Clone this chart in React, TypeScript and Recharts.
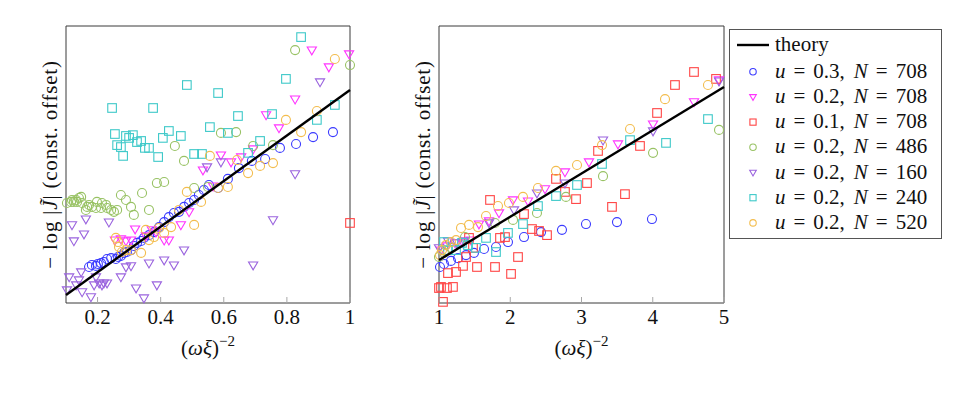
import React from 'react';
import { ScatterChart, Scatter, XAxis, YAxis, Label } from 'recharts';

const FONT = '"Liberation Serif", "Times New Roman", serif';
const FS = 21;
const FRAME = '#3a3a3a';
const TICK = '#a8a8a8';
const TXT = { fontFamily: FONT, fontSize: FS } as any;

// ---------- data (x = (omega xi)^-2, y = -log|J| in arbitrary units) ----------
const leftBlue = [[0.173,1.30],[0.182,1.37],[0.195,1.34],[0.201,1.41],[0.211,1.44],[0.220,1.48],[0.230,1.59],[0.243,1.62],[0.258,1.59],[0.265,1.66],[0.274,1.70],[0.284,1.81],[0.293,1.84],[0.306,1.91],[0.315,2.06],[0.325,2.17],[0.338,2.24],[0.347,2.35],[0.363,2.45],[0.379,2.56],[0.395,2.74],[0.411,2.92],[0.426,3.10],[0.442,3.25],[0.458,3.29],[0.474,3.47],[0.490,3.61],[0.506,3.72],[0.521,3.90],[0.537,4.08],[0.553,4.26],[0.582,4.15],[0.613,4.48],[0.648,4.87],[0.689,5.13],[0.731,5.20],[0.778,5.60],[0.829,5.74],[0.883,5.99],[0.946,6.17]];
const leftMagenta = [[0.255,2.27],[0.274,2.31],[0.290,2.24],[0.306,2.27],[0.319,2.67],[0.353,2.42],[0.372,2.64],[0.385,2.56],[0.411,2.27],[0.426,2.27],[0.464,2.82],[0.490,3.29],[0.534,4.80],[0.566,4.22],[0.591,5.34],[0.623,5.09],[0.655,5.27],[0.693,5.56],[0.734,6.79],[0.775,6.32],[0.826,7.36],[0.879,9.13],[0.933,8.52],[0.997,8.99]];
const leftRed = [[1.0,2.89]];
const leftGreen = [[0.103,3.61],[0.116,3.65],[0.119,3.72],[0.125,3.65],[0.132,3.72],[0.135,3.65],[0.141,3.79],[0.148,3.83],[0.151,3.61],[0.163,3.36],[0.167,3.47],[0.173,3.54],[0.182,3.47],[0.195,3.43],[0.198,3.65],[0.211,3.43],[0.214,3.61],[0.227,3.54],[0.230,3.43],[0.243,3.36],[0.252,3.29],[0.262,3.36],[0.274,3.90],[0.290,3.72],[0.306,3.47],[0.315,3.18],[0.341,3.97],[0.363,3.36],[0.388,4.33],[0.411,4.37],[0.445,5.67],[0.474,5.13],[0.506,4.15],[0.550,4.19],[0.591,6.14],[0.639,6.17],[0.693,5.67],[0.756,5.70],[0.826,9.13],[1.0,8.59]];
const leftPurple = [[0.103,0.47],[0.110,0.94],[0.119,2.82],[0.125,2.24],[0.132,0.65],[0.141,0.83],[0.148,1.12],[0.151,0.40],[0.157,2.49],[0.163,3.03],[0.179,0.22],[0.189,0.65],[0.195,0.94],[0.205,0.72],[0.214,0.65],[0.220,0.72],[0.230,0.72],[0.236,2.92],[0.274,0.94],[0.290,1.30],[0.306,1.34],[0.322,0.54],[0.347,0.18],[0.363,1.44],[0.388,0.65],[0.411,1.55],[0.442,1.37],[0.474,1.91],[0.547,4.91],[0.591,5.09],[0.693,1.37],[0.756,3.00],[0.826,4.66],[0.905,7.98]];
const leftTeal = [[0.246,7.04],[0.255,6.10],[0.262,5.70],[0.274,5.63],[0.281,5.31],[0.290,6.03],[0.300,5.96],[0.312,6.06],[0.325,5.81],[0.338,5.85],[0.350,5.60],[0.363,5.60],[0.376,7.04],[0.392,5.27],[0.407,5.96],[0.426,6.21],[0.464,6.03],[0.483,7.87],[0.506,5.38],[0.531,5.38],[0.556,6.35],[0.582,7.58],[0.613,6.14],[0.645,6.75],[0.677,5.42],[0.715,5.85],[0.753,6.82],[0.797,8.09],[0.845,9.60],[0.895,6.61],[0.952,7.15]];
const leftOrange = [[0.258,2.35],[0.265,2.20],[0.268,2.02],[0.277,1.84],[0.290,1.91],[0.306,1.91],[0.338,1.81],[0.353,2.64],[0.363,2.27],[0.379,2.38],[0.395,2.71],[0.411,2.53],[0.433,2.74],[0.458,3.36],[0.483,4.01],[0.506,2.82],[0.528,3.65],[0.556,5.31],[0.582,4.15],[0.613,4.19],[0.642,5.16],[0.677,4.69],[0.715,4.95],[0.756,5.05],[0.797,6.61],[0.845,6.17],[0.895,6.93],[0.952,8.81]];

const rightBlue = [[1.014,1.30],[1.070,1.41],[1.168,1.52],[1.267,1.62],[1.379,1.73],[1.491,1.81],[1.632,1.95],[1.800,2.02],[1.968,2.20],[2.193,2.38],[2.432,2.56],[2.726,2.64],[3.063,2.85],[3.498,2.92],[3.989,3.03]];
const rightMagenta = [[1.028,1.91],[1.112,2.06],[1.225,2.17],[1.337,2.17],[1.449,2.27],[1.561,2.85],[1.702,2.96],[1.842,3.25],[2.039,3.72],[2.249,3.68],[2.488,4.12],[2.768,4.73],[3.105,5.09],[3.512,5.74],[4.004,6.46],[4.579,7.26],[4.930,8.05]];
const rightRed = [[1.000,0.54],[1.028,0.58],[1.056,0.04],[1.112,0.54],[1.126,1.08],[1.196,0.58],[1.239,1.12],[1.337,1.34],[1.379,1.66],[1.421,2.35],[1.477,1.99],[1.533,1.30],[1.716,3.72],[1.786,1.30],[1.856,2.35],[1.926,2.38],[2.011,1.05],[2.109,1.66],[2.193,3.21],[2.305,2.67],[2.404,2.60],[2.516,2.45],[2.642,4.48],[2.768,4.01],[2.923,3.75],[3.077,4.33],[3.232,5.49],[3.428,3.47],[3.610,3.93],[3.821,5.67],[4.060,6.86],[4.312,7.87],[4.579,8.34],[4.888,8.09]];
const rightGreen = [[1.000,1.66],[1.070,1.81],[1.182,1.99],[1.365,2.38],[1.786,2.89],[2.039,3.00],[2.375,3.25],[2.782,3.83],[3.302,4.58],[4.004,5.42],[4.930,6.25]];
const rightPurple = [[1.000,1.99],[1.126,2.24],[1.253,2.17],[1.351,2.24],[1.702,2.89],[2.053,3.36],[2.375,3.97],[2.768,4.33],[3.302,5.88],[4.004,6.21],[4.930,8.01]];
const rightTeal = [[1.070,2.20],[1.126,1.91],[1.239,1.91],[1.323,2.17],[1.407,2.09],[1.519,1.99],[1.660,2.35],[1.800,1.84],[1.968,2.53],[2.179,2.85],[2.389,3.50],[2.642,3.86],[2.937,4.26],[3.288,5.02],[3.681,5.88],[4.186,5.78],[4.775,6.64]];
const rightOrange = [[1.014,1.73],[1.042,1.91],[1.098,2.09],[1.168,2.20],[1.239,2.27],[1.309,2.71],[1.421,2.82],[1.547,2.74],[1.660,3.14],[1.828,3.50],[1.982,3.61],[2.179,3.83],[2.389,4.15],[2.642,4.77],[2.937,4.98],[3.288,5.70],[3.681,6.28],[4.172,7.36],[4.775,7.87]];

const theoryLeft = [[0.1,0.29],[1.0,7.69]];
const theoryRight = [[1,1.55],[5,7.80]];

const leftTicks = [0.2, 0.4, 0.6, 0.8, 1];
const rightTicks = [1, 2, 3, 4, 5];
const yDomain = [0, 10];

const seriesU = ['0.3', '0.2', '0.1', '0.2', '0.2', '0.2', '0.2'];
const seriesN = ['708', '708', '708', '486', '160', '240', '520'];
const seriesColors = ['#3b3bff', '#ff33ff', '#ff4545', '#98c264', '#9a63de', '#3ec9c9', '#f3bd4e'];
const seriesMarkers = ['circle', 'tri', 'square', 'circle', 'tri', 'square', 'circle'];
const leftSets = [leftBlue, leftMagenta, leftRed, leftGreen, leftPurple, leftTeal, leftOrange];
const rightSets = [rightBlue, rightMagenta, rightRed, rightGreen, rightPurple, rightTeal, rightOrange];

const toPts = (a: number[][]) => a.map(([x, y]) => ({ x, y }));

function Marker({ cx, cy, kind, color, s = 1 }: any) {
  if (cx == null || cy == null) return <g />;
  if (kind === 'circle')
    return <circle cx={cx} cy={cy} r={4.5 * s} fill="none" stroke={color} strokeWidth={1.1} />;
  if (kind === 'square')
    return <rect x={cx - 4.3 * s} y={cy - 4.3 * s} width={8.6 * s} height={8.6 * s} fill="none" stroke={color} strokeWidth={1.1} />;
  const pts = `${cx - 4.6 * s},${cy - 3.1 * s} ${cx + 4.6 * s},${cy - 3.1 * s} ${cx},${cy + 4.8 * s}`;
  return <polygon points={pts} fill="none" stroke={color} strokeWidth={1.1} strokeLinejoin="miter" />;
}

function BottomTick(props: any) {
  const { x, y, payload } = props;
  return (
    <g>
      <line x1={x} x2={x} y1={y} y2={y - 6} stroke={TICK} strokeWidth={1} />
      <text x={x} y={y + 21} textAnchor="middle" fill="#111" style={TXT}>
        {String(payload.value)}
      </text>
    </g>
  );
}

function TopTick(props: any) {
  const { x, y } = props;
  return <line x1={x} x2={x} y1={y} y2={y + 6} stroke={TICK} strokeWidth={1} />;
}

function XLabelContent(props: any) {
  const vb = props.viewBox || {};
  const cx = (vb.x ?? 0) + (vb.width ?? 0) / 2;
  const y = (vb.y ?? 0) + 52;
  return (
    <text x={cx} y={y} textAnchor="middle" fill="#111" style={TXT}>
      (<tspan style={{ fontStyle: 'italic' }}>ωξ</tspan>)<tspan dy={-9} style={{ fontSize: 15 }}>−2</tspan>
    </text>
  );
}

function YLabelContent(props: any) {
  const vb = props.viewBox || {};
  const x = (vb.x ?? 0) + (vb.width ?? 0) - 9;
  const y = (vb.y ?? 0) + (vb.height ?? 0) / 2;
  return (
    <text x={x} y={y} transform={`rotate(-90 ${x} ${y})`} textAnchor="middle" fill="#111" style={{ ...TXT, letterSpacing: 0.8 }}>
      − log |<tspan style={{ fontStyle: 'italic' }}>J̃</tspan>| (const. offset)
    </text>
  );
}

function Panel({ left, width, mLeft, mRight, domain, ticks, sets, theory }: any) {
  return (
    <div style={{ position: 'absolute', left, top: 0 }}>
      <ScatterChart width={width} height={395} margin={{ top: 25, right: mRight, bottom: 91, left: mLeft }}>
        <XAxis xAxisId={0} type="number" dataKey="x" domain={domain} ticks={ticks} interval={0}
          height={1} tickSize={0} tickMargin={0} tickLine={false} axisLine={{ stroke: FRAME }}
          tick={(p: any) => <BottomTick {...p} />}>
          <Label content={XLabelContent} />
        </XAxis>
        <XAxis xAxisId="top" orientation="top" type="number" domain={domain} ticks={ticks} interval={0}
          height={1} tickSize={0} tickMargin={0} tickLine={false} axisLine={{ stroke: FRAME }}
          tick={(p: any) => <TopTick {...p} />} />
        <YAxis yAxisId={0} type="number" dataKey="y" domain={yDomain} width={1}
          tick={false} tickLine={false} axisLine={{ stroke: FRAME }}>
          <Label content={YLabelContent} />
        </YAxis>
        <YAxis yAxisId="r" orientation="right" type="number" domain={yDomain} width={1}
          tick={false} tickLine={false} axisLine={{ stroke: FRAME }} />
        {sets.map((set: number[][], i: number) => (
          <Scatter key={i} name={`s${i}`} data={toPts(set)} isAnimationActive={false}
            shape={(p: any) => <Marker cx={p.cx} cy={p.cy} kind={seriesMarkers[i]} color={seriesColors[i]} />} />
        ))}
        <Scatter name="theory" data={toPts(theory)} isAnimationActive={false}
          line={{ stroke: '#000', strokeWidth: 2.4 }} lineType="joint" shape={() => <g />} />
      </ScatterChart>
    </div>
  );
}

function LegendBox() {
  const rowY = (i: number) => 42.7 + 25.2 * i;
  return (
    <svg width={215} height={212} style={{ position: 'absolute', left: 728, top: 28 }}>
      <rect x={1.5} y={1.5} width={212} height={209} fill="#fff" stroke="#555" strokeWidth={1} />
      <line x1={9} x2={41} y1={17} y2={17} stroke="#000" strokeWidth={2.4} />
      <text x={47} y={23} fill="#111" style={TXT}>theory</text>
      {seriesU.map((u, i) => (
        <g key={i}>
          <Marker cx={25} cy={rowY(i) + 1} kind={seriesMarkers[i]} color={seriesColors[i]} s={0.72} />
          <text x={47} y={rowY(i) + 7} fill="#111" style={TXT}>
            <tspan style={{ fontStyle: 'italic' }}>u</tspan>
            <tspan dx={8}>=</tspan>
            <tspan dx={8}>{u},</tspan>
            <tspan dx={9} style={{ fontStyle: 'italic' }}>N</tspan>
            <tspan dx={8}>=</tspan>
            <tspan dx={8}>{seriesN[i]}</tspan>
          </text>
        </g>
      ))}
    </svg>
  );
}

export default function App() {
  return (
    <div style={{ position: 'absolute', left: 0, top: 0, width: 969, height: 395, background: '#fff', overflow: 'hidden' }}>
      <Panel left={0} width={380} mLeft={65} mRight={29} domain={[0.1, 1]} ticks={leftTicks} sets={leftSets} theory={theoryLeft} />
      <Panel left={380} width={589} mLeft={58} mRight={244} domain={[1, 5]} ticks={rightTicks} sets={rightSets} theory={theoryRight} />
      <LegendBox />
    </div>
  );
}
